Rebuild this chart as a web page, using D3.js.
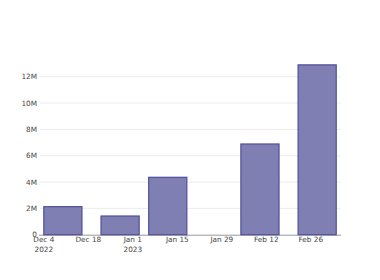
<!DOCTYPE html>
<html>
<head>
<meta charset="utf-8">
<script src="https://cdn.jsdelivr.net/npm/d3@7"></script>
<style>
  body { margin: 0; background: #fff; }
  svg { display: block; }
</style>
</head>
<body>
<svg id="chart"></svg>
<script>
// data
const weeks = ["2022-12-10", "2022-12-28", "2023-01-12", "2023-02-10", "2023-02-28"];
const values = [2.13e6, 1.42e6, 4.36e6, 6.89e6, 12.9e6];
const yTicks = [0, 2e6, 4e6, 6e6, 8e6, 10e6, 12e6];
const yTickLabels = ["0", "2M", "4M", "6M", "8M", "10M", "12M"];
const xTicks = ["2022-12-04", "2022-12-18", "2023-01-01", "2023-01-15", "2023-01-29", "2023-02-12", "2023-02-26"];

const W = 380, H = 280;
const plotL = 40, plotR = 341, plotT = 56.3, plotB = 234.7;
const DAY = 864e5;
const parse = d3.utcParse("%Y-%m-%d");

const svg = d3.select("#chart")
  .attr("width", W)
  .attr("height", H)
  .style("font-family", "'DejaVu Sans', sans-serif");

const data = weeks.map((w, i) => ({ date: parse(w), value: values[i] }));

// x range padded a little past the first and last tick
const x0 = new Date(+parse("2022-12-04") - 1.2 * DAY);
const x1 = new Date(+parse("2022-12-04") + 93.5 * DAY);
const x = d3.scaleUtc().domain([x0, x1]).range([plotL, plotR]);

const y = d3.scaleLinear().domain([0, 13.55e6]).range([plotB, plotT]);

const barDays = 12; // 0.8 of min gap between bars

// grid
svg.append("g")
  .selectAll("line")
  .data(yTicks.slice(1))
  .join("line")
  .attr("x1", plotL)
  .attr("x2", plotR)
  .attr("y1", d => y(d))
  .attr("y2", d => y(d))
  .attr("stroke", "#ececec")
  .attr("stroke-width", 1);

// y labels
svg.append("g")
  .selectAll("text")
  .data(yTicks)
  .join("text")
  .attr("x", plotL - 3)
  .attr("y", d => y(d))
  .attr("dy", "0.35em")
  .attr("text-anchor", "end")
  .style("font-size", "7.3px")
  .style("fill", "#444")
  .text((d, i) => yTickLabels[i]);

// x axis line
svg.append("line")
  .attr("x1", plotL - 1)
  .attr("x2", plotR)
  .attr("y1", plotB + 0.5)
  .attr("y2", plotB + 0.5)
  .attr("stroke", "#999")
  .attr("stroke-width", 1);

// bars
const half = d => [new Date(+d.date - barDays / 2 * DAY), new Date(+d.date + barDays / 2 * DAY)];
svg.append("g")
  .selectAll("rect")
  .data(data)
  .join("rect")
  .attr("x", d => x(half(d)[0]))
  .attr("width", d => x(half(d)[1]) - x(half(d)[0]))
  .attr("y", d => y(d.value))
  .attr("height", d => y(0) - y(d.value))
  .attr("fill", "#7f7fb4")
  .attr("stroke", "#4f4f9c")
  .attr("stroke-width", 1.2);

// x labels
const fmt = d3.utcFormat("%b %-d");
const xl = svg.append("g")
  .selectAll("text")
  .data(xTicks.map(parse))
  .join("text")
  .attr("x", d => x(d))
  .attr("y", plotB + 7.6)
  .attr("text-anchor", "middle")
  .style("font-size", "7.3px")
  .style("fill", "#444");

xl.append("tspan").text(d => fmt(d));
xl.filter((d, i) => i === 0 || d.getUTCMonth() === 0 && d.getUTCDate() <= 7)
  .append("tspan")
  .attr("x", d => x(d))
  .attr("dy", 10)
  .text(d => d.getUTCFullYear());
</script>
</body>
</html>
